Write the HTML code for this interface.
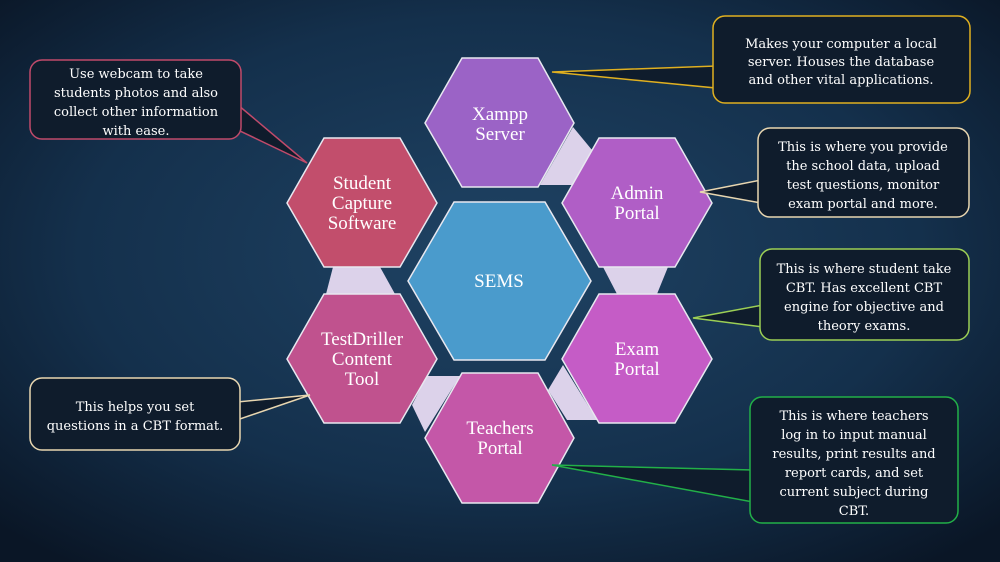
<!DOCTYPE html>
<html><head><meta charset="utf-8"><style>
html,body{margin:0;padding:0;width:1000px;height:562px;overflow:hidden;background:#0f2238}
svg{display:block}
text{font-family:"Liberation Serif","DejaVu Serif",serif;fill:#fff;text-anchor:middle}
.c{font-family:"DejaVu Serif",serif;font-size:13px;font-weight:normal}
.h{font-size:19px}
</style></head><body>
<svg width="1000" height="562" viewBox="0 0 1000 562" xmlns="http://www.w3.org/2000/svg">
<defs>
<radialGradient id="bg" cx="50%" cy="45%" r="70%">
<stop offset="0" stop-color="#1f4364"/><stop offset="0.6" stop-color="#14304c"/><stop offset="1" stop-color="#0a1626"/>
</radialGradient>
</defs>
<rect width="1000" height="562" fill="url(#bg)"/>
<g fill="#dcd2ea">
<polygon points="573,127 592,150 572,185 540,185"/>
<polygon points="333,267 380,267 395,294 326,294"/>
<polygon points="603,267 668,267 657,294 617,294"/>
<polygon points="563,365 548,390 567,420 597,420"/>
<polygon points="427,376 460,376 425,432 412,405"/>
</g>
<g stroke="#e8e8f0" stroke-width="1.5">
<polygon fill="#9b63c6" points="425,123 462,58 538,58 574,123 538,187 462,187"/>
<polygon fill="#b05ec6" points="562,203 599,138 675,138 712,203 675,267 599,267"/>
<polygon fill="#c24e6c" points="287,203 324,138 400,138 437,203 400,267 324,267"/>
<polygon fill="#4a9bcc" points="408,281 454,202 545,202 591,281 545,360 454,360"/>
<polygon fill="#c0528e" points="287,359 324,294 400,294 437,359 400,423 324,423"/>
<polygon fill="#c55cc6" points="562,359 599,294 675,294 712,359 675,423 599,423"/>
<polygon fill="#c457a8" points="425,438 462,373 538,373 574,438 538,503 462,503"/>
</g>
<text class="h" x="500" y="120">Xampp</text><text class="h" x="500" y="140">Server</text>
<text class="h" x="637" y="199">Admin</text><text class="h" x="637" y="219">Portal</text>
<text class="h" x="362" y="189">Student</text><text class="h" x="362" y="209">Capture</text><text class="h" x="362" y="229">Software</text>
<text class="h" x="499" y="287">SEMS</text>
<text class="h" x="362" y="345">TestDriller</text><text class="h" x="362" y="365">Content</text><text class="h" x="362" y="385">Tool</text>
<text class="h" x="637" y="355">Exam</text><text class="h" x="637" y="375">Portal</text>
<text class="h" x="500" y="434">Teachers</text><text class="h" x="500" y="454">Portal</text>

<g fill="#0f1c2c" stroke-width="1.5">
<polygon stroke="#e0b020" points="552,72 716,66 716,88"/>
<rect stroke="#e0b020" x="713" y="16" width="257" height="87" rx="12"/>
<polygon stroke="#c04a6a" points="307,163 238,105 238,130"/>
<rect stroke="#c04a6a" x="30" y="60" width="211" height="79" rx="12"/>
<polygon stroke="#e8d6b0" points="700,192 761,180 761,203"/>
<rect stroke="#e8d6b0" x="758" y="128" width="211" height="89" rx="12"/>
<polygon stroke="#9ccf55" points="693,318 763,305 763,327"/>
<rect stroke="#9ccf55" x="760" y="249" width="209" height="91" rx="12"/>
<polygon stroke="#e8d6b0" points="310,395 237,402 237,420"/>
<rect stroke="#e8d6b0" x="30" y="378" width="210" height="72" rx="12"/>
<polygon stroke="#22b048" points="552,465 753,470 753,502"/>
<rect stroke="#22b048" x="750" y="397" width="208" height="126" rx="12"/>
</g>
<g>
<text class="c" x="841" y="48">Makes your computer a local</text>
<text class="c" x="841" y="66">server. Houses the database</text>
<text class="c" x="841" y="84">and other vital applications.</text>
<text class="c" x="136" y="78">Use webcam to take</text>
<text class="c" x="136" y="97">students photos and also</text>
<text class="c" x="136" y="116">collect other information</text>
<text class="c" x="136" y="135">with ease.</text>
<text class="c" x="863" y="151">This is where you provide</text>
<text class="c" x="863" y="170">the school data, upload</text>
<text class="c" x="863" y="189">test questions, monitor</text>
<text class="c" x="863" y="208">exam portal and more.</text>
<text class="c" x="864" y="273">This is where student take</text>
<text class="c" x="864" y="292">CBT. Has excellent CBT</text>
<text class="c" x="864" y="311">engine for objective and</text>
<text class="c" x="864" y="330">theory exams.</text>
<text class="c" x="135" y="411">This helps you set</text>
<text class="c" x="135" y="430">questions in a CBT format.</text>
<text class="c" x="854" y="420">This is where teachers</text>
<text class="c" x="854" y="439">log in to input manual</text>
<text class="c" x="854" y="458">results, print results and</text>
<text class="c" x="854" y="477">report cards, and set</text>
<text class="c" x="854" y="496">current subject during</text>
<text class="c" x="854" y="515">CBT.</text>
</g>
</svg>
</body></html>
